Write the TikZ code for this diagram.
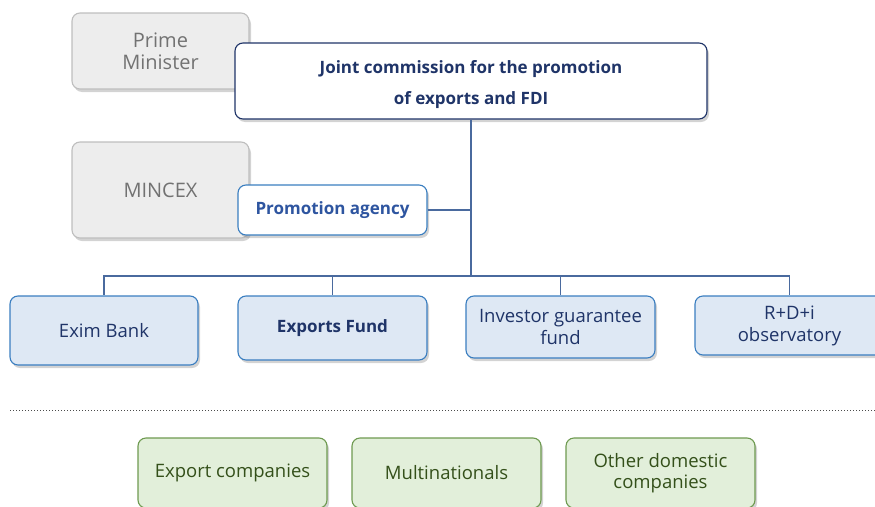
\documentclass[tikz,border=0pt]{standalone}
\usepackage{fontspec}
\setmainfont{Open Sans}
\usetikzlibrary{shadows}

\definecolor{navy}{HTML}{1F3468}
\definecolor{agencyblue}{HTML}{2E55A0}
\definecolor{boxblue}{HTML}{3A7EC0}
\definecolor{fillblue}{HTML}{DEE8F4}
\definecolor{linkblue}{HTML}{4A6A9E}
\definecolor{greyfill}{HTML}{EDEDED}
\definecolor{greytext}{HTML}{727272}
\definecolor{greenfill}{HTML}{E2EFDA}
\definecolor{greenline}{HTML}{6E9A50}
\definecolor{greentext}{HTML}{34501A}

\tikzset{
	box/.style={rounded corners=8pt,align=center,line width=1.1pt,
		drop shadow={shadow xshift=2pt,shadow yshift=-3pt,opacity=.35}},
	ministry/.style={box,draw=greyfill!80!black,fill=greyfill,text=greytext,
		font=\fontsize{20}{22}\selectfont},
	board/.style={box,draw=navy,fill=white,text=navy,
		font=\bfseries\fontsize{17}{31}\selectfont},
	agency/.style={box,draw=boxblue,fill=white,text=agencyblue,
		font=\bfseries\fontsize{17}{20}\selectfont},
	tool/.style={box,draw=boxblue,fill=fillblue,text=navy,
		font=\fontsize{18.5}{22}\selectfont},
	firm/.style={box,draw=greenline,fill=greenfill,text=greentext,
		font=\fontsize{18.5}{21}\selectfont},
	link/.style={draw=linkblue,line width=1.2pt}
}

\begin{document}
\begin{tikzpicture}[x=1pt,y=-1pt]
	\useasboundingbox (0,0) rectangle (875,506);
	\clip (0,0) rectangle (875,506);
	\def\w{189} %width of the lower boxes
	
	%GOVERNMENT
	\node[ministry,minimum width=177,minimum height=76] (pm) at (160.5,51) {Prime\\Minister};
	\node[ministry,minimum width=177,minimum height=96] (mincex) at (160.5,190) {MINCEX};
	\node[board,minimum width=472,minimum height=76] (commission) at (471,81)
		{\rule{0pt}{20pt}Joint commission for the promotion\\of exports and FDI};
	\node[agency,minimum width=\w,minimum height=50] (agency) at (332.5,210) {Promotion agency};
	
	%INSTRUMENTS
	\node[tool,minimum width=188,minimum height=69] (exim) at (104,330.5) {Exim Bank};
	\node[tool,minimum width=\w,minimum height=64,font=\bfseries\fontsize{17}{22}\selectfont] (fund) at (332.5,328) {Exports Fund};
	\node[tool,minimum width=\w,minimum height=62] (guarantee) at (560.5,327) {Investor guarantee\\fund};
	\node[tool,minimum width=\w,minimum height=59] (observatory) at (789.5,325.5) {R+D+i\\observatory};
	
	%CONNECTORS
	\coordinate (hub) at (commission.south |- 0,276);
	\draw[link] (commission.south) -- (hub);
	\draw[link] (agency.east) -- (agency.east -| hub);
	\foreach \n in {exim,fund,guarantee,observatory}
		\draw[link] (hub) -| (\n.north);
	
	%COMPANIES
	\draw[dotted,line width=1pt,black!70] (10,410) -- (875,410);
	\foreach \n/\x/\t in {exporters/232.5/Export companies,
		multinationals/446.5/Multinationals,
		domestic/660.5/Other domestic\\companies}
		\node[firm,minimum width=\w,minimum height=70] (\n) at (\x,473) {\t};
\end{tikzpicture}
\end{document}
